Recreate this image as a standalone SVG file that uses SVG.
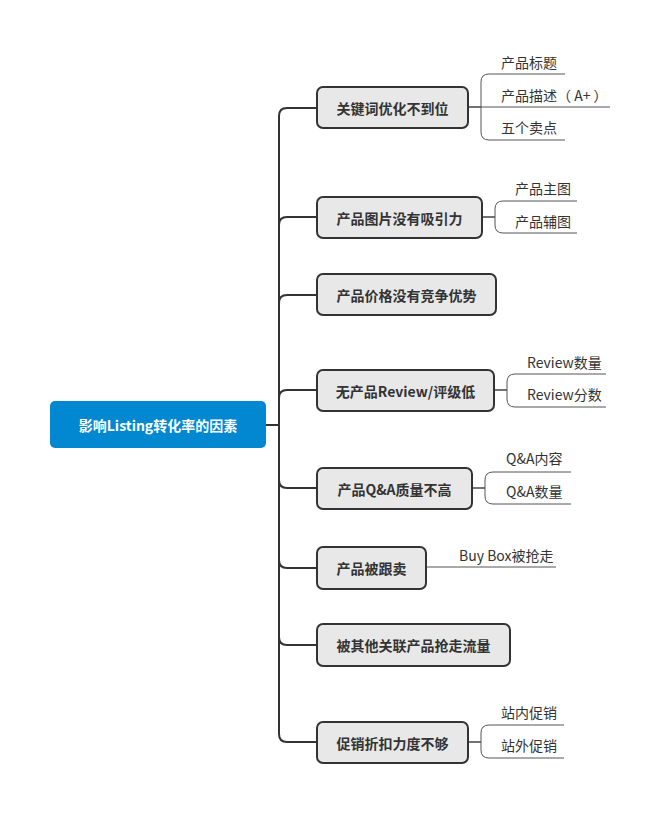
<svg xmlns="http://www.w3.org/2000/svg" width="661" height="813" viewBox="0 0 661 813">
<style>
.node rect{fill:#e8e8e8;stroke:#333;stroke-width:2}
.node text{font-family:"Noto Sans CJK SC","Noto Sans",sans-serif;font-size:14px;font-weight:bold;fill:#333;text-anchor:middle;dominant-baseline:central}
.sub{font-family:"Noto Sans CJK SC","Noto Sans",sans-serif;font-size:14px;fill:#333;dominant-baseline:central}
.trunk{fill:none;stroke:#333;stroke-width:2}
.br{fill:none;stroke:#444;stroke-width:1.5}
.leaf{fill:none;stroke:#555;stroke-width:1}
</style>
<rect width="661" height="813" fill="#fff"/>
<g id="connectors">
<path class="trunk" d="M266 425H279" stroke-width="3"/>
<path class="trunk" d="M279 425V116Q279 108 287 108H317"/>
<path class="trunk" d="M279 425V225Q279 217 287 217H317"/>
<path class="trunk" d="M279 425V303Q279 295 287 295H317"/>
<path class="trunk" d="M279 425V398Q279 390 287 390H317"/>
<path class="trunk" d="M279 425V480Q279 488 287 488H317"/>
<path class="trunk" d="M279 425V560Q279 568 287 568H317"/>
<path class="trunk" d="M279 425V637Q279 645 287 645H317"/>
<path class="trunk" d="M279 425V734Q279 742 287 742H317"/>
<path class="br" d="M468 107H481"/>
<path class="leaf" d="M481 107H610"/>
<path class="leaf" d="M565 74H489Q481 74 481 82V132Q481 140 489 140H565"/>
<path class="br" d="M482 217H495"/>
<path class="leaf" d="M577 201H503Q495 201 495 209V225Q495 233 503 233H577"/>
<path class="br" d="M494 390H507"/>
<path class="leaf" d="M606 374H515Q507 374 507 382V399Q507 407 515 407H606"/>
<path class="br" d="M472 488H485"/>
<path class="leaf" d="M571 472H493Q485 472 485 480V496Q485 504 493 504H571"/>
<path class="leaf" d="M426 567H556"/>
<path class="br" d="M468 742H481"/>
<path class="leaf" d="M564 725H489Q481 725 481 733V750Q481 758 489 758H564"/>
</g>
<g id="root">
<rect x="50" y="401" width="216" height="47" rx="5" fill="#0288d1"/>
<text x="158" y="425" font-family="'Noto Sans CJK SC','Noto Sans',sans-serif" font-size="14" font-weight="bold" fill="#fff" text-anchor="middle" dominant-baseline="central">影响Listing转化率的因素</text>
</g>
<g id="n1" class="node"><rect x="317" y="87" width="151" height="41" rx="6"/><text x="392.5" y="107.5">关键词优化不到位</text></g>
<g id="n2" class="node"><rect x="317" y="197" width="165" height="41" rx="6"/><text x="399.5" y="217.5">产品图片没有吸引力</text></g>
<g id="n3" class="node"><rect x="317" y="274" width="179" height="41" rx="6"/><text x="406.5" y="294.5">产品价格没有竞争优势</text></g>
<g id="n4" class="node"><rect x="317" y="370" width="177" height="41" rx="6"/><text x="405.5" y="390.5">无产品Review/评级低</text></g>
<g id="n5" class="node"><rect x="317" y="468" width="155" height="41" rx="6"/><text x="394.5" y="488.5">产品Q&amp;A质量不高</text></g>
<g id="n6" class="node"><rect x="317" y="547" width="109" height="42" rx="6"/><text x="371.5" y="568">产品被跟卖</text></g>
<g id="n7" class="node"><rect x="317" y="624" width="193" height="42" rx="6"/><text x="413.5" y="645">被其他关联产品抢走流量</text></g>
<g id="n8" class="node"><rect x="317" y="722" width="151" height="41" rx="6"/><text x="392.5" y="742.5">促销折扣力度不够</text></g>
<g id="leaves">
<text class="sub" x="501" y="62">产品标题</text>
<text class="sub" x="501" y="95" xml:space="preserve">产品描述（ A+ ）</text>
<text class="sub" x="501" y="127">五个卖点</text>
<text class="sub" x="515" y="188">产品主图</text>
<text class="sub" x="515" y="221">产品辅图</text>
<text class="sub" x="527" y="362">Review数量</text>
<text class="sub" x="527" y="394">Review分数</text>
<text class="sub" x="506" y="458">Q&amp;A内容</text>
<text class="sub" x="506" y="491">Q&amp;A数量</text>
<text class="sub" x="459" y="555">Buy Box被抢走</text>
<text class="sub" x="501" y="712">站内促销</text>
<text class="sub" x="501" y="745">站外促销</text>
</g>
</svg>
